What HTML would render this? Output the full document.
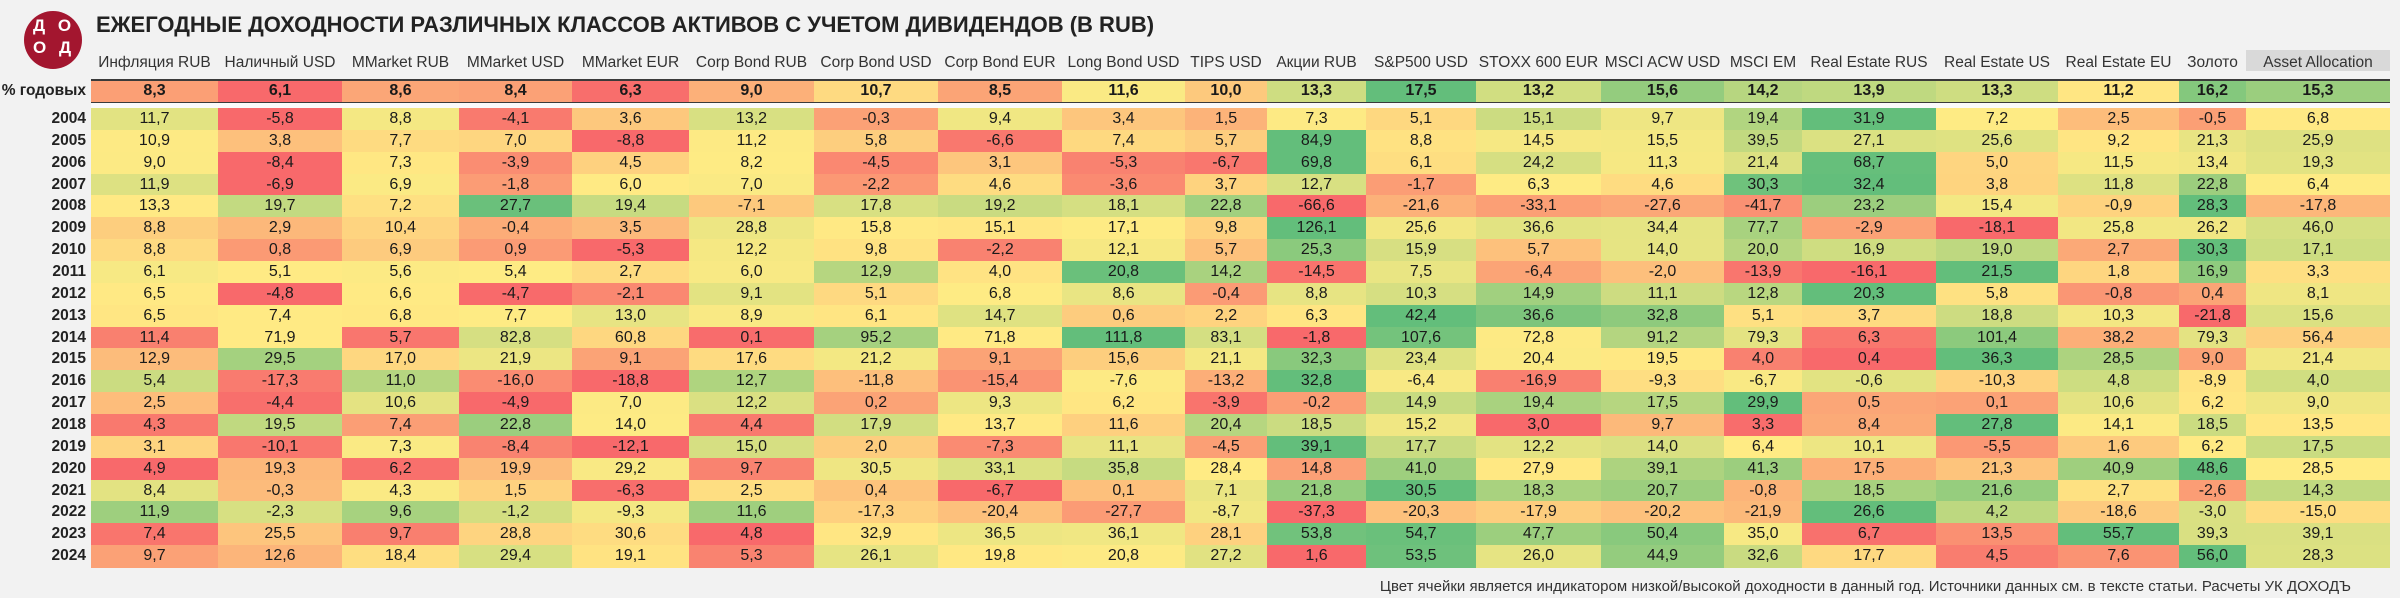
<!DOCTYPE html>
<html><head><meta charset="utf-8">
<style>
body{margin:0;width:2400px;height:598px;background:#f2f2f2;position:relative;overflow:hidden;font-family:"Liberation Sans",sans-serif;color:#222}
.a{position:absolute}
.c{position:absolute;text-align:center;font-size:16px;line-height:22px;color:#1a1a1a}
.h{position:absolute;text-align:center;font-size:15.5px;color:#333;top:53px;height:20px;line-height:20px;white-space:nowrap}
.y{position:absolute;left:0;width:86px;text-align:right;font-weight:bold;font-size:15.5px;line-height:22px;color:#222}
</style></head><body>
<div class="a" style="left:24px;top:11px;width:58px;height:58px;border-radius:50%;background:#a3162f"></div>
<div class="a" style="left:33px;top:16px;color:#fff;font-weight:bold;font-size:17px;line-height:20px;letter-spacing:4px">Д О</div>
<div class="a" style="left:33px;top:38px;color:#fff;font-weight:bold;font-size:17px;line-height:20px;letter-spacing:4px">О Д</div>
<div class="a" style="left:96px;top:12px;font-size:22px;font-weight:bold;color:#222;white-space:nowrap">ЕЖЕГОДНЫЕ ДОХОДНОСТИ РАЗЛИЧНЫХ КЛАССОВ АКТИВОВ С УЧЕТОМ ДИВИДЕНДОВ (В RUB)</div>
<div class="a" style="left:2246px;top:50px;width:144px;height:21px;background:#d9d9d9"></div>
<div class="a" style="left:91px;top:79px;width:2299px;height:2px;background:#3a3a3a"></div>
<div class="a" style="left:91px;top:101px;width:2299px;height:2px;background:#3a3a3a"></div>
<div class="a" style="left:91px;top:103px;width:2299px;height:5px;background:#fafafa"></div>
<div class="y" style="top:80px">% годовых</div>
<div id="t"></div>
<div class="a" style="right:49px;top:578px;font-size:15px;color:#333;white-space:nowrap">Цвет ячейки является индикатором низкой/высокой доходности в данный год. Источники данных см. в тексте статьи. Расчеты УК ДОХОДЪ</div>
<script>
(function(){
var B=[91,218,342,459,572,689,814,938,1062,1185,1267,1366,1476,1601,1724,1802,1936,2058,2179,2246,2390];
var H=["Инфляция RUB","Наличный USD","MMarket RUB","MMarket USD","MMarket EUR","Corp Bond RUB","Corp Bond USD","Corp Bond EUR","Long Bond USD","TIPS USD","Акции RUB","S&P500 USD","STOXX 600 EUR","MSCI ACW USD","MSCI EM","Real Estate RUS","Real Estate US","Real Estate EU","Золото","Asset Allocation"];
var R=[
["8,3 6,1 8,6 8,4 6,3 9,0 10,7 8,5 11,6 10,0 13,3 17,5 13,2 15,6 14,2 13,9 13,3 11,2 16,2 15,3"],
["2004","11,7 -5,8 8,8 -4,1 3,6 13,2 -0,3 9,4 3,4 1,5 7,3 5,1 15,1 9,7 19,4 31,9 7,2 2,5 -0,5 6,8"],
["2005","10,9 3,8 7,7 7,0 -8,8 11,2 5,8 -6,6 7,4 5,7 84,9 8,8 14,5 15,5 39,5 27,1 25,6 9,2 21,3 25,9"],
["2006","9,0 -8,4 7,3 -3,9 4,5 8,2 -4,5 3,1 -5,3 -6,7 69,8 6,1 24,2 11,3 21,4 68,7 5,0 11,5 13,4 19,3"],
["2007","11,9 -6,9 6,9 -1,8 6,0 7,0 -2,2 4,6 -3,6 3,7 12,7 -1,7 6,3 4,6 30,3 32,4 3,8 11,8 22,8 6,4"],
["2008","13,3 19,7 7,2 27,7 19,4 -7,1 17,8 19,2 18,1 22,8 -66,6 -21,6 -33,1 -27,6 -41,7 23,2 15,4 -0,9 28,3 -17,8"],
["2009","8,8 2,9 10,4 -0,4 3,5 28,8 15,8 15,1 17,1 9,8 126,1 25,6 36,6 34,4 77,7 -2,9 -18,1 25,8 26,2 46,0"],
["2010","8,8 0,8 6,9 0,9 -5,3 12,2 9,8 -2,2 12,1 5,7 25,3 15,9 5,7 14,0 20,0 16,9 19,0 2,7 30,3 17,1"],
["2011","6,1 5,1 5,6 5,4 2,7 6,0 12,9 4,0 20,8 14,2 -14,5 7,5 -6,4 -2,0 -13,9 -16,1 21,5 1,8 16,9 3,3"],
["2012","6,5 -4,8 6,6 -4,7 -2,1 9,1 5,1 6,8 8,6 -0,4 8,8 10,3 14,9 11,1 12,8 20,3 5,8 -0,8 0,4 8,1"],
["2013","6,5 7,4 6,8 7,7 13,0 8,9 6,1 14,7 0,6 2,2 6,3 42,4 36,6 32,8 5,1 3,7 18,8 10,3 -21,8 15,6"],
["2014","11,4 71,9 5,7 82,8 60,8 0,1 95,2 71,8 111,8 83,1 -1,8 107,6 72,8 91,2 79,3 6,3 101,4 38,2 79,3 56,4"],
["2015","12,9 29,5 17,0 21,9 9,1 17,6 21,2 9,1 15,6 21,1 32,3 23,4 20,4 19,5 4,0 0,4 36,3 28,5 9,0 21,4"],
["2016","5,4 -17,3 11,0 -16,0 -18,8 12,7 -11,8 -15,4 -7,6 -13,2 32,8 -6,4 -16,9 -9,3 -6,7 -0,6 -10,3 4,8 -8,9 4,0"],
["2017","2,5 -4,4 10,6 -4,9 7,0 12,2 0,2 9,3 6,2 -3,9 -0,2 14,9 19,4 17,5 29,9 0,5 0,1 10,6 6,2 9,0"],
["2018","4,3 19,5 7,4 22,8 14,0 4,4 17,9 13,7 11,6 20,4 18,5 15,2 3,0 9,7 3,3 8,4 27,8 14,1 18,5 13,5"],
["2019","3,1 -10,1 7,3 -8,4 -12,1 15,0 2,0 -7,3 11,1 -4,5 39,1 17,7 12,2 14,0 6,4 10,1 -5,5 1,6 6,2 17,5"],
["2020","4,9 19,3 6,2 19,9 29,2 9,7 30,5 33,1 35,8 28,4 14,8 41,0 27,9 39,1 41,3 17,5 21,3 40,9 48,6 28,5"],
["2021","8,4 -0,3 4,3 1,5 -6,3 2,5 0,4 -6,7 0,1 7,1 21,8 30,5 18,3 20,7 -0,8 18,5 21,6 2,7 -2,6 14,3"],
["2022","11,9 -2,3 9,6 -1,2 -9,3 11,6 -17,3 -20,4 -27,7 -8,7 -37,3 -20,3 -17,9 -20,2 -21,9 26,6 4,2 -18,6 -3,0 -15,0"],
["2023","7,4 25,5 9,7 28,8 30,6 4,8 32,9 36,5 36,1 28,1 53,8 54,7 47,7 50,4 35,0 6,7 13,5 55,7 39,3 39,1"],
["2024","9,7 12,6 18,4 29,4 19,1 5,3 26,1 19,8 20,8 27,2 1,6 53,5 26,0 44,9 32,6 17,7 4,5 7,6 56,0 28,3"]];
var red=[248,105,107],yel=[255,235,132],grn=[99,190,123];
function mix(a,b,t){return "rgb("+a.map(function(v,i){return Math.round(v+(b[i]-v)*t)}).join(",")+")"}
function pct(s,p){var n=s.length,k=(n-1)*p,f=Math.floor(k);return s[f]+(s[Math.min(f+1,n-1)]-s[f])*(k-f)}
var o="";
for(var j=0;j<20;j++){o+='<div class="h" style="left:'+B[j]+'px;width:'+(B[j+1]-B[j])+'px">'+H[j].replace("&","&amp;")+'</div>';}
for(var r=0;r<R.length;r++){
 var txt=(r==0?R[r][0]:R[r][1]).split(" ");
 var v=txt.map(function(x){return parseFloat(x.replace(",","."))});
 var s=v.slice().sort(function(a,b){return a-b}),mn=s[0],mx=s[s.length-1],md=pct(s,0.5);
 var yy=r==0?81:108+(r-1)*21.86, hh=r==0?20:21.86;
 yy=Math.round(yy*100)/100;
 if(r>0)o+='<div class="y" style="top:'+yy+'px">'+R[r][0]+'</div>';
 for(var j=0;j<20;j++){
  var x=v[j],col=x<=md?mix(red,yel,(x-mn)/(md-mn||1)):mix(yel,grn,(x-md)/(mx-md||1));
  o+='<div class="c" style="left:'+B[j]+'px;top:'+yy+'px;width:'+(B[j+1]-B[j])+'px;height:'+(hh+0.5)+'px;line-height:'+hh+'px;background:'+col+(r==0?';font-weight:bold':'')+'">'+txt[j]+'</div>';
 }
}
document.getElementById("t").innerHTML=o;
})();
</script>
</body></html>
